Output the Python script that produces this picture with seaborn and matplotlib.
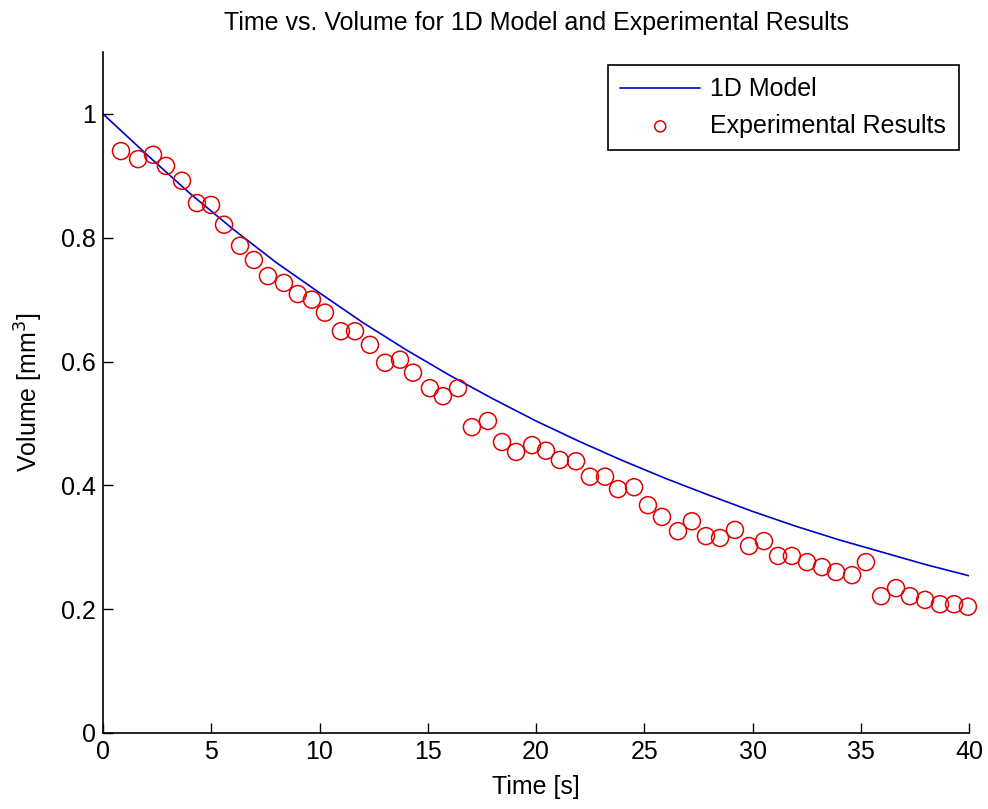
import matplotlib
matplotlib.use("Agg")
import matplotlib.pyplot as plt
import seaborn as sns
import pandas as pd

# Model curve
model_time = [0, 2, 4, 6, 8, 10, 12, 14, 16, 18, 20, 22, 24, 26, 28, 30, 32, 34, 36, 38, 40]
model_volume = [1.000, 0.935, 0.872, 0.814, 0.760, 0.711, 0.663, 0.619, 0.578, 0.540, 0.504,
                0.471, 0.440, 0.411, 0.384, 0.358, 0.334, 0.312, 0.292, 0.272, 0.254]

# Experimental results
exp_time = [0.83, 1.62, 2.31, 2.91, 3.65, 4.34, 4.99, 5.59, 6.33, 6.97,
            7.62, 8.36, 9.00, 9.65, 10.25, 10.99, 11.64, 12.33, 13.03, 13.72,
            14.32, 15.10, 15.70, 16.40, 17.04, 17.78, 18.43, 19.08, 19.82, 20.46,
            21.10, 21.85, 22.49, 23.19, 23.79, 24.53, 25.17, 25.82, 26.56, 27.20,
            27.85, 28.50, 29.19, 29.84, 30.53, 31.18, 31.82, 32.52, 33.21, 33.86,
            34.60, 35.24, 35.94, 36.63, 37.27, 37.97, 38.66, 39.31, 39.95]
exp_volume = [0.940, 0.927, 0.934, 0.916, 0.892, 0.856, 0.853, 0.821, 0.787, 0.764,
              0.738, 0.727, 0.709, 0.700, 0.679, 0.649, 0.649, 0.627, 0.598, 0.603,
              0.582, 0.557, 0.544, 0.557, 0.494, 0.504, 0.470, 0.454, 0.465, 0.456,
              0.441, 0.439, 0.414, 0.414, 0.394, 0.397, 0.368, 0.349, 0.326, 0.342,
              0.318, 0.315, 0.328, 0.302, 0.310, 0.286, 0.286, 0.276, 0.268, 0.260,
              0.255, 0.276, 0.221, 0.234, 0.221, 0.215, 0.208, 0.208, 0.204]

x_ticks = [0, 5, 10, 15, 20, 25, 30, 35, 40]
y_ticks = [0, 0.2, 0.4, 0.6, 0.8, 1.0]
y_tick_labels = ["0", "0.2", "0.4", "0.6", "0.8", "1"]

sns.set_theme(style="white")
plt.rcParams["font.family"] = ["Liberation Sans", "DejaVu Sans"]
plt.rcParams["text.color"] = "black"
plt.rcParams["axes.labelcolor"] = "black"

fig = plt.figure(figsize=(9.88, 8.09), dpi=100)
ax = fig.add_axes([103 / 988, 1 - 733 / 809, 866 / 988, 681 / 809])

df_model = pd.DataFrame({"t": model_time, "v": model_volume})
df_exp = pd.DataFrame({"t": exp_time, "v": exp_volume})

sns.lineplot(data=df_model, x="t", y="v", ax=ax, color="#0000cc", linewidth=1.2,
             label="1D Model")
sns.scatterplot(data=df_exp, x="t", y="v", ax=ax, marker="o", s=150,
                facecolors="none", edgecolor="#e00000", linewidth=1.1,
                label="Experimental Results", clip_on=False, zorder=3)

ax.set_xlim(0, 40)
ax.set_ylim(0, 1.1)
ax.set_xticks(x_ticks)
ax.set_xticklabels([str(t) for t in x_ticks])
ax.set_yticks(y_ticks)
ax.set_yticklabels(y_tick_labels)

fs = 18
ax.tick_params(direction="in", length=7, width=1, colors="black", labelsize=fs,
               bottom=True, left=True, pad=5)
for side in ["top", "right"]:
    ax.spines[side].set_visible(False)
for side in ["left", "bottom"]:
    ax.spines[side].set_color("black")
    ax.spines[side].set_linewidth(1.2)

ax.set_xlabel("Time [s]", fontsize=fs, labelpad=8, color="black")
ax.set_ylabel("Volume [mm$^3$]", fontsize=fs, labelpad=12, color="black")
ax.set_title("Time vs. Volume for 1D Model and Experimental Results", fontsize=fs,
             pad=16, color="black")

leg = ax.legend(loc="upper right", bbox_to_anchor=(0.988, 0.981), borderaxespad=0,
                fontsize=fs, frameon=True, fancybox=False, edgecolor="black",
                framealpha=1, handlelength=3.2, handletextpad=0.4, borderpad=0.5,
                labelspacing=0.5, markerscale=0.65)
leg.get_frame().set_linewidth(1.2)
for txt in leg.get_texts():
    txt.set_color("black")

fig.savefig("out.png", dpi=100, facecolor="white")
